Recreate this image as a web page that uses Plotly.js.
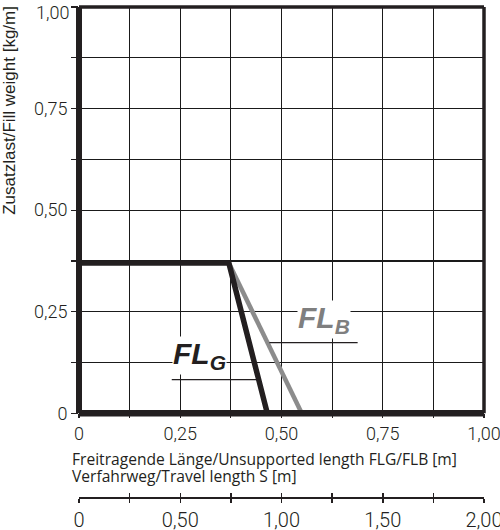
<!DOCTYPE html>
<html><head><meta charset="utf-8">
<script src="https://cdn.plot.ly/plotly-3.0.1.min.js"></script>
<style>html,body{margin:0;padding:0;background:#fff}#chart{width:500px;height:530px}</style>
</head><body><div id="chart"></div>
<script>
// Data
const flgX = [0, 0.37, 0.465];
const flgY = [0.37, 0.37, 0];
const flbX = [0.37, 0.55];
const flbY = [0.37, 0];
const mainTickVals = [0, 0.125, 0.25, 0.375, 0.5, 0.625, 0.75, 0.875, 1];
const mainTickText = ['0', '', '0,25', '', '0,50', '', '0,75', '', '1,00'];
const travelTickVals = [0, 0.25, 0.5, 0.75, 1, 1.25, 1.5, 1.75, 2];
const travelTickText = ['0', '', '0,50', '', '1,00', '', '1,50', '', '2,00'];
const labelG = 'FL<sub>G</sub>';
const labelB = 'FL<sub>B</sub>';
const yTitle = 'Zusatzlast/Fill weight [kg/m]';
const xTitle1 = 'Freitragende Länge/Unsupported length FLG/FLB [m]';
const xTitle2 = 'Verfahrweg/Travel length S [m]';

const dark = '#231f20';
const grey = '#8c8c8c';
const tickFont = {family: 'Roboto, Liberation Sans, sans-serif', size: 18, color: dark, weight: 300};

// y labels: the top one is placed slightly lower (as in the reference) via an annotation
const yTickTextAxis = mainTickText.map((t, i) => i === mainTickText.length - 1 ? '' : t);
const yTopLabel = mainTickText[mainTickText.length - 1];

const traces = [
  {x: flbX, y: flbY, mode: 'lines', line: {color: grey, width: 4.5}, hoverinfo: 'skip', xaxis: 'x', yaxis: 'y'},
  {x: flgX, y: flgY, mode: 'lines', line: {color: dark, width: 5.5}, hoverinfo: 'skip', xaxis: 'x', yaxis: 'y'},
  {x: [], y: [], xaxis: 'x2', yaxis: 'y', hoverinfo: 'skip'},
  {x: [], y: [], xaxis: 'x3', yaxis: 'y', hoverinfo: 'skip'}
];

const yDomLow = (497 - 413.3) / (497 - 6.7);

const layout = {
  width: 500, height: 530,
  margin: {l: 79, r: 16, t: 7, b: 33},
  paper_bgcolor: '#fff', plot_bgcolor: '#fff',
  showlegend: false,
  separators: ',.',
  xaxis: {
    range: [0, 1], anchor: 'y', tickvals: mainTickVals, ticktext: mainTickText,
    showgrid: true, gridcolor: '#1a1a1a', gridwidth: 1.1, zeroline: false, showline: false,
    ticks: 'outside', ticklen: 4, tickwidth: 1.2, tickcolor: dark, tickfont: tickFont, fixedrange: true,
    ticklabeloverflow: 'allow'
  },
  yaxis: {
    range: [0, 1], domain: [yDomLow, 1], tickvals: mainTickVals, ticktext: yTickTextAxis,
    showgrid: true, gridcolor: '#1a1a1a', gridwidth: 1.1, zeroline: false, showline: false,
    ticks: 'outside', ticklen: 7, tickwidth: 1.2, tickcolor: dark, tickfont: tickFont, fixedrange: true,
    ticklabeloverflow: 'allow'
  },
  xaxis2: {
    range: [0, 2], overlaying: 'x', anchor: 'free', position: 0, side: 'bottom',
    tickvals: travelTickVals, ticktext: travelTickText, showgrid: false, zeroline: false,
    showline: true, linecolor: dark, linewidth: 1.5,
    ticks: 'outside', ticklen: 4, tickwidth: 1.5, tickcolor: dark,
    tickfont: {family: tickFont.family, size: 20, color: dark, weight: 300}, fixedrange: true,
    ticklabeloverflow: 'allow'
  },
  xaxis3: {
    range: [0, 2], overlaying: 'x', anchor: 'free', position: 0, side: 'bottom',
    tickvals: travelTickVals, showticklabels: false, showgrid: false, zeroline: false,
    showline: false, ticks: 'inside', ticklen: 4, tickwidth: 1.5, tickcolor: dark, fixedrange: true
  },
  shapes: [
    {type: 'line', xref: 'x domain', yref: 'y domain', x0: 0, x1: 1, y0: 1, y1: 1, line: {color: dark, width: 3.5}},
    {type: 'line', xref: 'x domain', yref: 'y domain', x0: 1, x1: 1, y0: 0, y1: 1, line: {color: dark, width: 3.5}},
    {type: 'line', xref: 'x domain', yref: 'y domain', x0: 0, x1: 0, y0: 0, y1: 1, line: {color: dark, width: 6}},
    {type: 'line', xref: 'x domain', yref: 'y domain', x0: 0, x1: 1, y0: 0, y1: 0, line: {color: dark, width: 6.5}},
    {type: 'line', xref: 'x', yref: 'y', x0: 0.229, x1: 0.447, y0: 0.083, y1: 0.083, line: {color: dark, width: 1.4}},
    {type: 'line', xref: 'x', yref: 'y', x0: 0.47, x1: 0.688, y0: 0.174, y1: 0.174, line: {color: dark, width: 1.4}}
  ],
  annotations: [
    {xref: 'paper', yref: 'paper', x: (71 - 79) / 405, y: (497 - 12) / 490.3, xanchor: 'right', yanchor: 'middle',
     showarrow: false, text: yTopLabel, font: tickFont},
    {xref: 'x', yref: 'y', x: 0.229, y: 0.143, xanchor: 'left', yanchor: 'middle', showarrow: false,
     text: '<b><i>' + labelG + '</i></b>', bgcolor: '#fff', borderpad: 0,
     font: {family: 'Liberation Sans, Arial, sans-serif', size: 30, color: dark}},
    {xref: 'x', yref: 'y', x: 0.538, y: 0.232, xanchor: 'left', yanchor: 'middle', showarrow: false,
     text: '<b><i>' + labelB + '</i></b>', bgcolor: '#fff', borderpad: 0,
     font: {family: 'Liberation Sans, Arial, sans-serif', size: 30, color: '#7f7f7f'}},
    {xref: 'paper', yref: 'paper', x: (10 - 79) / 405, y: (497 - 4) / 490.3, xanchor: 'center', yanchor: 'top',
     textangle: -90, showarrow: false, text: yTitle,
     font: {family: 'Liberation Sans, Arial, sans-serif', size: 17, color: dark}},
    {xref: 'paper', yref: 'paper', x: (70 - 79) / 405, y: (497 - 459) / 490.3, xanchor: 'left', yanchor: 'middle',
     showarrow: false, text: xTitle1,
     font: {family: 'Open Sans, sans-serif', size: 15.6, color: dark}},
    {xref: 'paper', yref: 'paper', x: (70 - 79) / 405, y: (497 - 476) / 490.3, xanchor: 'left', yanchor: 'middle',
     showarrow: false, text: xTitle2,
     font: {family: 'Open Sans, sans-serif', size: 15.6, color: dark}}
  ]
};

Plotly.newPlot('chart', traces, layout, {displayModeBar: false, staticPlot: true});
</script>
</body></html>
